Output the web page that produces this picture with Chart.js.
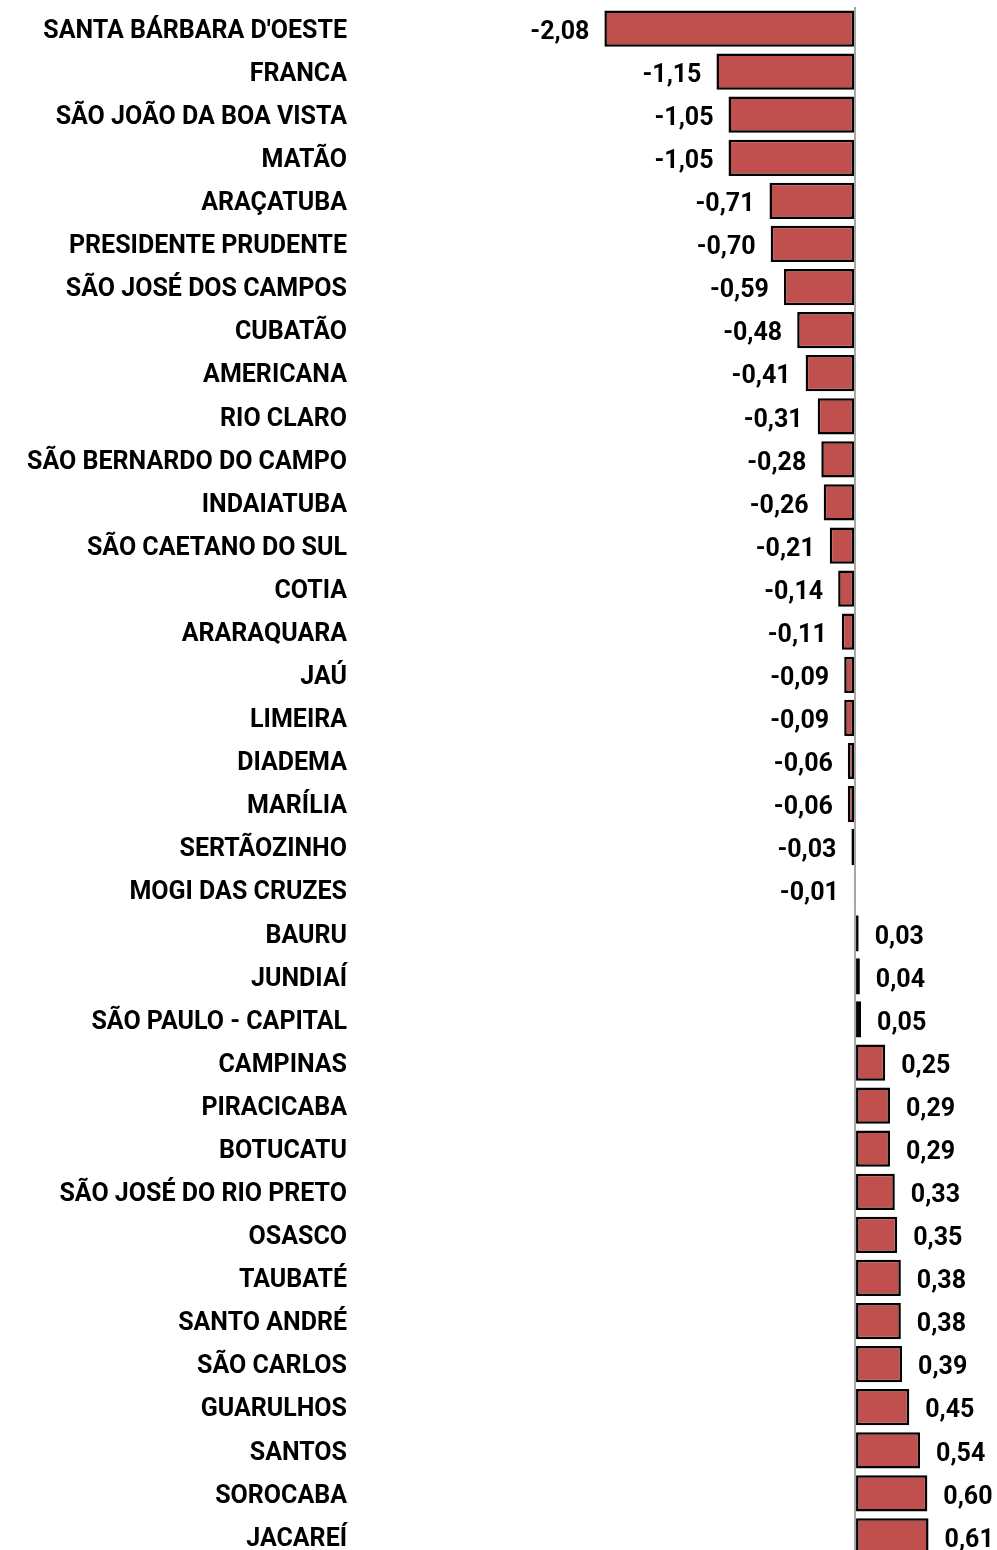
<!DOCTYPE html>
<html>
<head>
<meta charset="utf-8">
<script src="https://cdn.jsdelivr.net/npm/chart.js@4/dist/chart.umd.min.js"></script>
<style>
  html,body{margin:0;padding:0;background:#fff;overflow:hidden;}
  #wrap{position:relative;width:997px;height:1558px;}
</style>
</head>
<body>
<div id="wrap"><canvas id="c"></canvas></div>
<script>
const cities = ["SANTA BÁRBARA D'OESTE","FRANCA","SÃO JOÃO DA BOA VISTA","MATÃO","ARAÇATUBA","PRESIDENTE PRUDENTE",
  "SÃO JOSÉ DOS CAMPOS","CUBATÃO","AMERICANA","RIO CLARO","SÃO BERNARDO DO CAMPO","INDAIATUBA","SÃO CAETANO DO SUL",
  "COTIA","ARARAQUARA","JAÚ","LIMEIRA","DIADEMA","MARÍLIA","SERTÃOZINHO","MOGI DAS CRUZES","BAURU","JUNDIAÍ",
  "SÃO PAULO - CAPITAL","CAMPINAS","PIRACICABA","BOTUCATU","SÃO JOSÉ DO RIO PRETO","OSASCO","TAUBATÉ","SANTO ANDRÉ",
  "SÃO CARLOS","GUARULHOS","SANTOS","SOROCABA","JACAREÍ"];
const values = [-2.08,-1.15,-1.05,-1.05,-0.71,-0.70,-0.59,-0.48,-0.41,-0.31,-0.28,-0.26,-0.21,-0.14,-0.11,-0.09,-0.09,
  -0.06,-0.06,-0.03,-0.01,0.03,0.04,0.05,0.25,0.29,0.29,0.33,0.35,0.38,0.38,0.39,0.45,0.54,0.60,0.61];

const FAMILY = 'Roboto, "Open Sans", sans-serif';
const FONT = {family:FAMILY, size:25, weight:'700'};

// value labels at bar ends, comma decimal
const valueLabels = {
  id:'valueLabels',
  afterDatasetsDraw(chart){
    const ctx = chart.ctx, meta = chart.getDatasetMeta(0);
    ctx.save();
    ctx.font = '700 25px ' + FAMILY;
    ctx.fillStyle = '#000';
    ctx.textBaseline = 'middle';
    meta.data.forEach((bar,i)=>{
      const v = values[i];
      const txt = v.toFixed(2).replace('.',',');
      if(v<0){ctx.textAlign='right';ctx.fillText(txt,bar.x-15,bar.y+4);}
      else{ctx.textAlign='left';ctx.fillText(txt,bar.x+16,bar.y+4);}
    });
    ctx.restore();
  }
};

new Chart(document.getElementById('c'),{
  type:'bar',
  data:{labels:cities,datasets:[{data:values,backgroundColor:'#C0504D',borderColor:'#000',borderWidth:2.5,
    borderSkipped:false,barPercentage:0.84,categoryPercentage:1}]},
  options:{indexAxis:'y',responsive:true,maintainAspectRatio:false,animation:false,
    layout:{padding:{top:7,right:0,bottom:0,left:0}},
    plugins:{legend:{display:false},tooltip:{enabled:false}},
    scales:{
      x:{min:-4.133,max:1.178,z:1,ticks:{display:false,stepSize:1},border:{display:false},
        grid:{drawTicks:false,lineWidth:2,color:c=>c.tick&&c.tick.value===0?'#A6A6A6':'transparent'},
        afterFit(s){s.height=0;s.paddingLeft=0;s.paddingRight=0;}},
      y:{ticks:{autoSkip:false,color:'#000',font:FONT,padding:10,labelOffset:3},grid:{display:false,drawTicks:false},border:{display:false},
        afterFit(s){s.width=357;s.paddingTop=0;s.paddingBottom=0;}}
    }},
  plugins:[valueLabels]
});
</script>
</body>
</html>
